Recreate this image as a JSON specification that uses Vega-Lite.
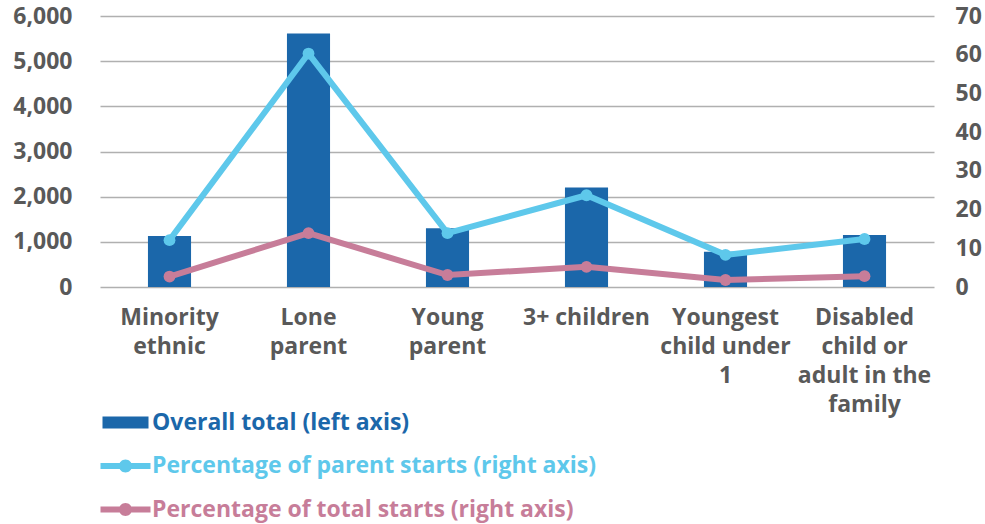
{
  "$schema": "https://vega.github.io/schema/vega-lite/v6.json",
  "width": 834,
  "height": 271,
  "autosize": {"type": "none"},
  "padding": {"left": 100, "top": 16, "right": 51, "bottom": 237},
  "background": "white",
  "config": {
    "view": {"stroke": null},
    "font": "Open Sans",
    "axis": {
      "labelFont": "Open Sans",
      "labelFontWeight": "bold",
      "labelFontSize": 23,
      "labelColor": "#595959",
      "domain": false,
      "ticks": false,
      "title": null
    }
  },
  "datasets": {
    "totals": [
      {"group": "Minority ethnic", "series": "Overall total (left axis)", "total": 1130},
      {"group": "Lone parent", "series": "Overall total (left axis)", "total": 5610},
      {"group": "Young parent", "series": "Overall total (left axis)", "total": 1300},
      {"group": "3+ children", "series": "Overall total (left axis)", "total": 2205},
      {"group": "Youngest child under 1", "series": "Overall total (left axis)", "total": 780},
      {"group": "Disabled child or adult in the family", "series": "Overall total (left axis)", "total": 1150}
    ],
    "shares": [
      {"group": "Minority ethnic", "series": "Percentage of parent starts (right axis)", "pct": 12.1},
      {"group": "Lone parent", "series": "Percentage of parent starts (right axis)", "pct": 60.3},
      {"group": "Young parent", "series": "Percentage of parent starts (right axis)", "pct": 13.9},
      {"group": "3+ children", "series": "Percentage of parent starts (right axis)", "pct": 23.7},
      {"group": "Youngest child under 1", "series": "Percentage of parent starts (right axis)", "pct": 8.3},
      {"group": "Disabled child or adult in the family", "series": "Percentage of parent starts (right axis)", "pct": 12.4},
      {"group": "Minority ethnic", "series": "Percentage of total starts (right axis)", "pct": 2.7},
      {"group": "Lone parent", "series": "Percentage of total starts (right axis)", "pct": 13.9},
      {"group": "Young parent", "series": "Percentage of total starts (right axis)", "pct": 3.1},
      {"group": "3+ children", "series": "Percentage of total starts (right axis)", "pct": 5.2},
      {"group": "Youngest child under 1", "series": "Percentage of total starts (right axis)", "pct": 1.8},
      {"group": "Disabled child or adult in the family", "series": "Percentage of total starts (right axis)", "pct": 2.8}
    ]
  },
  "encoding": {
    "x": {
      "field": "group",
      "type": "nominal",
      "sort": null,
      "scale": {"paddingInner": 0, "paddingOuter": 0},
      "axis": {
        "labelAngle": 0,
        "labelPadding": 19,
        "labelLineHeight": 29,
        "labelLimit": 200,
        "labelExpr": "datum.value == 'Minority ethnic' ? ['Minority', 'ethnic'] : datum.value == 'Lone parent' ? ['Lone', 'parent'] : datum.value == 'Young parent' ? ['Young', 'parent'] : datum.value == 'Youngest child under 1' ? ['Youngest', 'child under', '1'] : datum.value == 'Disabled child or adult in the family' ? ['Disabled', 'child or', 'adult in the', 'family'] : datum.value"
      }
    },
    "color": {
      "field": "series",
      "type": "nominal",
      "scale": {
        "domain": ["Overall total (left axis)", "Percentage of parent starts (right axis)", "Percentage of total starts (right axis)"],
        "range": ["#1b67aa", "#5ec8eb", "#c77d99"]
      },
      "legend": {
        "title": null,
        "orient": "none",
        "legendX": 14,
        "legendY": 395,
        "direction": "vertical",
        "padding": 0,
        "symbolSize": 400,
        "symbolStrokeWidth": 0,
        "labelFont": "Open Sans",
        "labelFontWeight": "bold",
        "labelFontSize": 23,
        "labelOffset": 15,
        "labelLimit": 700,
        "rowPadding": 19.5,
        "encode": {
          "symbols": {
            "update": {
              "shape": {"signal": "datum.value === 'Overall total (left axis)' ? 'M-2.3,-0.6L2.3,-0.6L2.3,0.6L-2.3,0.6Z' : 'M-2.5,-0.3L2.5,-0.3L2.5,0.3L-2.5,0.3Z M-0.65,0A0.65,0.65 0 1,1 0.65,0A0.65,0.65 0 1,1 -0.65,0Z'"},
              "fill": {"signal": "scale('color', datum.value)"},
              "stroke": {"value": "transparent"},
              "strokeWidth": {"value": 0},
              "opacity": {"value": 1},
              "fillOpacity": {"value": 1}
            }
          },
          "labels": {
            "update": {
              "fill": {"signal": "scale('color', datum.value)"}
            }
          }
        }
      }
    }
  },
  "layer": [
    {
      "data": {"name": "totals"},
      "mark": {"type": "bar", "width": {"band": 0.31}},
      "encoding": {
        "y": {
          "field": "total",
          "type": "quantitative",
          "scale": {"domain": [0, 6000], "nice": false},
          "axis": {
            "orient": "left",
            "values": [0, 1000, 2000, 3000, 4000, 5000, 6000],
            "format": ",.0f",
            "labelPadding": 28,
            "grid": true,
            "gridColor": "#b0b0b0",
            "gridWidth": 1.4
          }
        }
      }
    },
    {
      "data": {"name": "shares"},
      "mark": {"type": "line", "strokeWidth": 6, "point": {"filled": true, "size": 140, "opacity": 1}},
      "encoding": {
        "y": {
          "field": "pct",
          "type": "quantitative",
          "scale": {"domain": [0, 70], "nice": false},
          "axis": {
            "orient": "right",
            "values": [0, 10, 20, 30, 40, 50, 60, 70],
            "labelPadding": 21,
            "grid": false
          }
        }
      }
    }
  ],
  "resolve": {"scale": {"y": "independent"}}
}
